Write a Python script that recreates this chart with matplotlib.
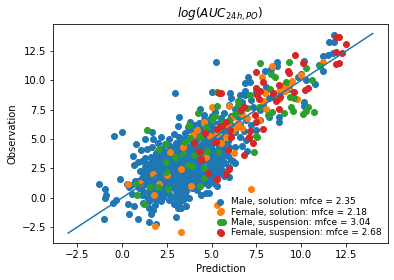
import numpy as np
import matplotlib
matplotlib.use('Agg')
import matplotlib.pyplot as plt

male_solution = [
    (5.24,11.6),(2.96,8.9),(5.0,9.0),(3.18,6.86),(3.13,6.1),(-0.43,5.25),(0.02,5.6),(1.7,5.64),(1.3,5.0),(1.74,5.0),
    (2.18,5.16),(4.35,7.54),(3.8,6.5),(4.57,7.06),(5.0,7.0),(5.2,7.3),(3.7,6.0),(4.0,6.2),(4.3,6.4),(4.8,6.3),
    (-1.26,1.16),(-0.93,0.79),(-0.87,0.2),(-0.93,0.0),(-0.32,-0.2),(-0.48,-0.45),(-0.98,-1.8),(-0.09,1.6),(0.41,-1.39),(0.9,-1.8),
    (1.52,-2.07),(1.9,-2.24),(3.0,-1.64),(0.35,-0.54),(0.68,-0.7),(0.8,4.57),(1.07,4.05),(0.63,3.55),(0.9,3.03),(0.68,2.78),
    (0.3,1.2),(0.5,1.1),(0.7,1.4),(0.4,0.9),(0.55,0.3),(1.5,-0.9),(1.75,-1.0),(1.6,-1.4),(1.85,-0.6),(2.9,-0.5),
    (3.2,-0.4),(3.4,-0.2),(3.75,0.0),(4.4,0.2),(4.67,0.4),(4.85,0.4),(5.96,1.81),(5.13,1.25),(6.06,3.23),(5.3,1.0),
    (11.85,13.9),(11.57,13.3),(11.85,13.3),(11.24,12.07),(11.5,12.15),(11.8,12.3),(11.24,10.77),(11.0,11.3),(8.68,11.54),(8.68,11.2),
    (7.02,10.26),(6.89,9.75),(7.17,9.84),(10.18,11.67),(9.8,10.3),(10.28,10.03),(10.8,9.67),(10.02,10.52),(8.74,6.43),(8.74,6.9),
    (10.18,8.19),(10.18,7.85),(6.02,8.9),(6.06,8.5),(6.89,9.12),(6.89,8.76),(6.6,8.8),(8.04,9.46),(8.18,8.47),(8.4,8.6),
    (7.72,7.48),(7.9,7.9),(7.3,7.7),(8.3,11.0),(8.0,10.8),(9.3,9.3),(8.9,9.0),(7.5,9.0),(7.2,8.3),(6.7,8.2),
    (6.3,7.6),(6.0,7.9),(5.7,7.2),(6.1,7.0),(6.5,6.9),(6.9,6.6),(7.2,6.2),(7.5,5.8),(7.7,6.6),(8.2,6.9),
    (5.4,6.4),(5.8,6.0),(6.3,5.6),(6.6,5.2),(6.9,4.9),(5.2,5.6),(5.5,5.1),(5.9,4.8),(6.3,4.3),(6.7,4.4),
    (7.0,4.0),(5.0,6.0),(4.7,5.7),(4.4,5.9),(4.1,5.6),(3.8,5.8),(3.5,5.5),(3.2,5.2),(2.9,5.4),(2.6,5.0),
    (2.4,4.6),(2.0,4.7),(1.7,4.3),(1.4,4.2),(2.2,4.2),(2.7,4.4),(3.0,4.7),(3.3,4.9),(3.6,4.5),(3.9,4.8),
    (4.2,5.0),(4.5,5.2),(4.8,4.8),(5.1,4.9),(5.4,4.4),(5.7,4.2),(5.0,4.2),(4.6,4.4),(4.3,4.2),(4.0,4.1),
    (3.7,4.0),(3.4,4.2),(3.1,4.0),(2.8,3.9),(2.5,3.7),(2.2,3.6),(1.9,3.8),(1.6,3.5),(1.3,3.4),(1.1,3.1),
    (1.4,2.9),(1.7,3.1),(2.0,3.2),(2.3,3.1),(2.6,3.3),(2.9,3.4),(3.2,3.5),(3.5,3.6),(3.8,3.4),(4.1,3.5),
    (4.4,3.7),(4.7,3.6),(5.0,3.5),(5.3,3.4),(5.6,3.3),(5.9,3.6),(6.2,3.1),(5.5,2.8),(5.2,2.9),(4.9,3.0),
    (4.6,3.1),(4.3,2.9),(4.0,3.0),(3.7,2.9),(3.4,3.0),(3.1,2.8),(2.8,2.9),(2.5,2.7),(2.2,2.6),(1.9,2.7),
    (1.6,2.5),(1.3,2.6),(1.0,2.3),(1.2,2.1),(1.5,2.0),(1.8,2.2),(2.1,2.1),(2.4,2.3),(2.7,2.2),(3.0,2.4),
    (3.3,2.1),(3.6,2.3),(3.9,2.2),(4.2,2.4),(4.5,2.2),(4.8,2.6),(5.1,2.3),(5.4,2.1),(5.7,1.9),(5.0,1.8),
    (4.7,1.9),(4.4,1.7),(4.1,1.8),(3.8,1.6),(3.5,1.7),(3.2,1.6),(2.9,1.8),(2.6,1.6),(2.3,1.7),(2.0,1.5),
    (1.7,1.6),(1.4,1.5),(1.1,1.7),(0.9,1.4),(1.2,1.1),(1.5,1.0),(1.8,1.2),(2.1,1.0),(2.4,1.2),(2.7,1.1),
    (3.0,1.3),(3.3,1.1),(3.6,1.2),(3.9,1.4),(4.2,1.1),(4.5,1.3),(4.8,1.1),(4.2,0.7),(3.9,0.8),(3.6,0.6),
    (3.3,0.7),(3.0,0.6),(2.7,0.8),(2.4,0.5),(2.1,0.6),(1.8,0.7),(1.5,0.5),(1.2,0.6),(0.95,0.8),(1.1,0.2),
    (1.4,0.1),(1.7,0.0),(2.0,0.2),(2.3,0.1),(2.6,0.3),(2.9,0.1),(3.2,0.2),(3.5,0.3),(1.5,-0.3),(1.9,-0.2),
    (2.2,-0.3),(2.6,-0.2),(3.1,-0.1),(1.2,-0.4),(3.3,-0.9),(3.6,-0.7),(3.1,-0.9),(5.6,2.4),(5.96,2.6),(6.3,3.0),
    (1.55,0.75),(1.95,0.85),(2.25,0.85),(2.55,0.95),(2.85,0.95),(3.15,0.95),(3.45,0.95),(3.75,1.05),(4.05,1.0),(4.35,1.0),
    (1.35,1.3),(1.65,1.35),(1.95,1.35),(2.25,1.4),(2.55,1.4),(2.85,1.45),(3.15,1.4),(3.45,1.4),(3.75,1.4),(4.05,1.5),
    (4.35,1.45),(4.65,1.55),(4.95,1.5),(1.25,1.85),(1.55,1.8),(1.85,1.8),(2.15,1.8),(2.45,1.95),(2.75,1.95),(3.05,2.0),
    (3.35,1.9),(3.65,1.95),(3.95,2.0),(4.25,2.0),(4.55,1.95),(4.85,2.05),(5.15,2.0),(1.45,2.3),(1.75,2.4),(2.05,2.4),
    (2.35,2.55),(2.65,2.55),(2.95,2.6),(3.25,2.5),(3.55,2.55),(3.85,2.6),(4.15,2.65),(4.45,2.55),(4.75,2.4),(5.05,2.6),
    (5.35,2.55),(1.55,2.85),(1.85,3.0),(2.15,2.9),(2.45,3.0),(2.75,3.1),(3.05,3.15),(3.35,3.25),(3.65,3.2),(3.95,3.25),
    (4.25,3.3),(4.55,3.35),(4.85,3.3),(5.15,3.2),(5.45,3.1),(5.75,3.0),(1.85,3.45),(2.15,3.35),(2.45,3.45),(2.75,3.6),
    (3.05,3.7),(3.35,3.75),(3.65,3.7),(3.95,3.8),(4.25,3.95),(4.55,3.9),(4.85,3.85),(5.15,3.85),(5.45,3.75),(5.75,3.7),
    (2.35,4.0),(2.65,4.1),(2.95,4.25),(3.25,4.45),(3.55,4.25),(3.85,4.35),(4.15,4.5),(4.45,4.6),(4.75,4.3),(5.05,4.55),
    (5.35,4.1),(5.65,4.55),(5.95,4.3),(3.45,5.0),(3.75,5.1),(4.05,5.15),(4.35,5.35),(4.65,5.0),(4.95,5.6),(5.25,5.2),
    (5.75,5.4),(6.05,5.3),(5.45,5.8),(6.1,6.2),(6.6,6.3),(5.1,6.5),(5.5,6.8),(4.9,6.7),(4.6,6.6),(6.8,5.7),
]
female_solution = [
    (5.0,7.76),(4.57,6.5),(8.4,11.2),(7.8,10.26),(10.0,10.43),(8.83,9.27),(9.48,9.97),(9.76,8.39),(5.96,7.8),(7.85,8.25),
    (8.04,7.54),(6.15,6.8),(7.63,6.63),(6.7,5.93),(6.18,5.78),(5.78,5.21),(11.22,11.56),(9.02,9.6),(8.74,8.39),(7.18,0.74),
    (5.28,-0.62),(6.24,3.8),(4.67,3.46),(5.5,4.65),(2.68,3.88),(1.74,2.02),(2.52,1.93),(3.3,2.44),(2.07,1.16),(1.02,1.25),
    (1.8,0.23),(3.85,0.99),(3.96,5.36),(5.5,-1.16),(1.85,-2.4),(3.3,-2.9),(0.35,1.16),(7.0,6.8),(6.5,6.4),(5.9,6.2),
    (6.4,6.0),(5.3,5.4),(4.9,5.3),(4.2,5.8),(3.4,4.3),(6.7,7.1),(8.0,8.9),(8.5,8.9),(9.1,9.1),(9.3,9.4),
]
male_suspension = [
    (1.4,5.75),(4.26,7.2),(5.33,7.8),(5.18,7.0),(3.74,6.18),(5.3,9.0),(7.72,11.45),(9.35,11.54),(10.3,11.03),(8.32,10.54),
    (8.56,10.3),(11.03,11.25),(10.63,10.0),(9.15,9.84),(8.28,9.27),(7.17,8.76),(6.46,8.25),(6.46,7.9),(6.98,7.63),(9.39,8.56),
    (9.6,8.5),(8.37,7.34),(8.13,7.08),(9.07,7.25),(9.43,7.7),(9.52,7.42),(10.4,7.7),(10.28,7.42),(10.74,7.31),(10.13,7.12),
    (6.33,7.12),(5.6,6.35),(7.5,5.25),(7.63,7.7),(7.54,5.21),(7.35,3.94),(5.35,3.88),(4.72,4.02),(4.6,2.52),(4.6,1.73),
    (2.46,4.57),(2.07,4.14),(3.5,4.79),(3.8,5.07),(4.35,5.16),(2.96,3.46),(2.46,3.03),(3.4,3.74),(4.02,3.66),(3.68,2.78),
    (3.9,2.67),(2.48,2.18),(0.8,1.16),(1.57,0.91),(2.02,0.96),(2.57,0.74),(4.35,0.99),(0.85,0.23),(1.24,-0.54),(5.63,-2.07),
    (5.0,6.6),(4.7,6.0),(5.6,5.9),(6.0,6.6),(6.6,7.4),
]
female_suspension = [
    (5.4,8.9),(12.1,13.66),(11.95,13.66),(12.5,13.07),(11.96,12.39),(12.3,12.3),(11.93,11.37),(12.13,11.45),(9.68,12.2),(10.1,11.45),
    (7.5,10.7),(9.25,10.77),(9.35,10.6),(7.9,9.84),(8.74,9.58),(7.48,9.38),(7.72,9.12),(8.43,8.9),(9.6,8.98),(10.4,9.33),
    (10.2,9.16),(7.54,8.76),(7.63,8.39),(8.8,8.56),(8.6,8.27),(6.8,7.7),(6.65,7.48),(8.74,7.57),(7.4,7.03),(7.48,6.46),
    (5.83,6.43),(5.6,6.12),(6.02,5.78),(7.85,5.87),(7.17,5.7),(6.06,5.16),(7.07,5.16),(5.54,8.9),(6.8,3.66),(7.3,4.65),
    (7.07,5.07),(5.22,4.74),(5.9,4.08),(4.39,3.23),(4.8,2.15),(5.96,2.44),(5.78,2.04),(5.32,1.59),(4.02,4.65),(4.63,5.5),
    (4.3,4.02),(5.24,4.74),(4.4,3.29),(5.3,1.59),(5.52,-3.0),(5.32,5.87),(5.5,6.1),
]
identity = [-3, 14]

labels = ['Male, solution: mfce = 2.35', 'Female, solution: mfce = 2.18',
          'Male, suspension: mfce = 3.04', 'Female, suspension: mfce = 2.68']

fig, ax = plt.subplots(figsize=(394 / 72, 280 / 72), dpi=72)

for pts, lab in zip([male_solution, female_solution, male_suspension, female_suspension], labels):
    x, y = np.array(pts).T
    ax.scatter(x, y, label=lab)

ax.plot(identity, identity)
ax.set_xlabel('Prediction')
ax.set_ylabel('Observation')
ax.set_title(r'$log(AUC_{24h,PO})$')
ax.set_xticks(np.arange(-2.5, 13, 2.5))
ax.set_yticks(np.arange(-2.5, 13, 2.5))
ax.set_xlim(-3.85, 14.85)
ax.set_ylim(-3.85, 14.85)
ax.legend(loc='lower right', frameon=False, fontsize=9, labelspacing=0.12,
          handletextpad=0.2, borderaxespad=0.3)

fig.subplots_adjust(left=53 / 394, right=388 / 394, top=1 - 23.5 / 280, bottom=1 - 243 / 280)
fig.savefig('out.png', dpi=72)
